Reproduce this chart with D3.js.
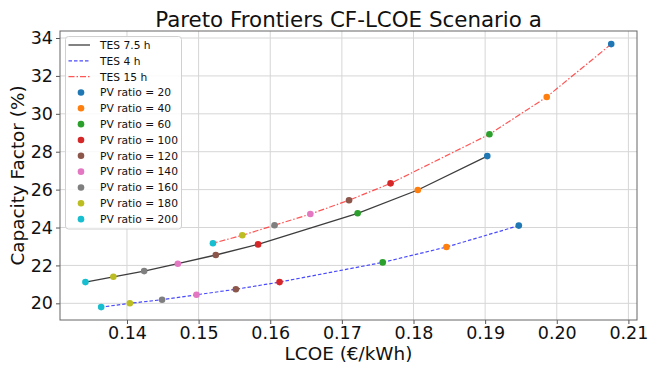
<!DOCTYPE html>
<html>
<head>
<meta charset="utf-8">
<script src="https://cdn.jsdelivr.net/npm/d3@7"></script>
<style>
  html, body { margin: 0; padding: 0; background: #fff; }
  svg { display: block; font-family: "DejaVu Sans", sans-serif; }
</style>
</head>
<body>
<svg id="chart" width="649" height="365"></svg>
<script>
// PV ratios shared by the three storage scenarios
const pvRatios = [20, 40, 60, 100, 120, 140, 160, 180, 200];
const pvColors = ["#1f77b4", "#ff7f0e", "#2ca02c", "#d62728", "#8c564b",
                  "#e377c2", "#7f7f7f", "#bcbd22", "#17becf"];

// TES 7.5 h
const lcoe75 = [0.1903, 0.1806, 0.1722, 0.1583, 0.1524, 0.1471, 0.1424, 0.1381, 0.1342];
const cf75   = [27.77, 25.98, 24.75, 23.11, 22.55, 22.09, 21.70, 21.40, 21.12];
// TES 4 h
const lcoe4  = [0.1947, 0.1846, 0.1757, 0.1613, 0.1552, 0.1497, 0.1449, 0.1404, 0.1364];
const cf4    = [24.10, 22.97, 22.16, 21.12, 20.74, 20.45, 20.19, 20.00, 19.80];
// TES 15 h
const lcoe15 = [0.2076, 0.1986, 0.1906, 0.1768, 0.1710, 0.1656, 0.1606, 0.1561, 0.1520];
const cf15   = [33.68, 30.89, 28.92, 26.33, 25.44, 24.71, 24.12, 23.59, 23.17];

const xTicks = [0.14, 0.15, 0.16, 0.17, 0.18, 0.19, 0.20, 0.21];
const yTicks = [20, 22, 24, 26, 28, 30, 32, 34];

const series = [
  { name: "TES 7.5 h", x: lcoe75, y: cf75, color: "#333333", opacity: 0.95, dash: null, width: 1.3 },
  { name: "TES 4 h",   x: lcoe4,  y: cf4,  color: "#2a2aff", opacity: 0.85, dash: "3.5,2", width: 1.2 },
  { name: "TES 15 h",  x: lcoe15, y: cf15, color: "#ff2a2a", opacity: 0.8, dash: "6,2,1.5,2", width: 1.2 }
];

const svg = d3.select("#chart");
const L = 60, R = 637, T = 31, B = 320;

const x = d3.scaleLinear().domain([0.13065, 0.2112]).range([L, R]);
const y = d3.scaleLinear().domain([19.12, 34.37]).range([B, T]);

// grid
const grid = svg.append("g");
grid.selectAll("line.gx").data(xTicks).join("line")
  .attr("x1", d => x(d)).attr("x2", d => x(d))
  .attr("y1", T).attr("y2", B)
  .attr("stroke", "#d6d6d6").attr("stroke-width", 1);
grid.selectAll("line.gy").data(yTicks).join("line")
  .attr("x1", L).attr("x2", R)
  .attr("y1", d => y(d)).attr("y2", d => y(d))
  .attr("stroke", "#d6d6d6").attr("stroke-width", 1);

// axes
const xAxis = svg.append("g").attr("transform", `translate(0,${B})`)
  .call(d3.axisBottom(x).tickValues(xTicks).tickFormat(d3.format(".2f")).tickSize(4).tickPadding(3));
const yAxis = svg.append("g").attr("transform", `translate(${L},0)`)
  .call(d3.axisLeft(y).tickValues(yTicks).tickSize(4).tickPadding(3));
[xAxis, yAxis].forEach(a => {
  a.select(".domain").remove();
  a.selectAll(".tick line").attr("stroke", "#555");
  a.selectAll(".tick text").attr("font-size", 17.5).attr("fill", "#111")
    .attr("font-family", "DejaVu Sans");
});

// frame
svg.append("rect").attr("x", L).attr("y", T).attr("width", R - L).attr("height", B - T)
  .attr("fill", "none").attr("stroke", "#666").attr("stroke-width", 1);

// frontier lines
const line = d3.line().x(d => x(d[0])).y(d => y(d[1]));
series.forEach(s => {
  svg.append("path")
    .datum(s.x.map((v, i) => [v, s.y[i]]))
    .attr("d", line)
    .attr("fill", "none")
    .attr("stroke", s.color)
    .attr("stroke-opacity", s.opacity)
    .attr("stroke-width", s.width)
    .attr("stroke-dasharray", s.dash);
});

// PV ratio markers
series.forEach(s => {
  svg.append("g").selectAll("circle")
    .data(s.x.map((v, i) => ({ lcoe: v, cf: s.y[i], c: pvColors[i] })))
    .join("circle")
    .attr("cx", d => x(d.lcoe)).attr("cy", d => y(d.cf))
    .attr("r", 3.3).attr("fill", d => d.c);
});

// title and axis labels
svg.append("text").attr("x", (L + R) / 2).attr("y", 27)
  .attr("text-anchor", "middle").attr("font-size", 21.4).attr("fill", "#111")
  .text("Pareto Frontiers CF-LCOE Scenario a");
svg.append("text").attr("x", (L + R) / 2).attr("y", 360)
  .attr("text-anchor", "middle").attr("font-size", 18.4).attr("fill", "#111")
  .text("LCOE (€/kWh)");
svg.append("text")
  .attr("transform", `translate(24,${(T + B) / 2}) rotate(-90)`)
  .attr("text-anchor", "middle").attr("font-size", 18.4).attr("fill", "#111")
  .text("Capacity Factor (%)");

// legend
const lg = svg.append("g");
lg.append("rect").attr("x", 65.5).attr("y", 36.5).attr("width", 116).attr("height", 192.5)
  .attr("rx", 3).attr("fill", "#fff").attr("fill-opacity", 0.85)
  .attr("stroke", "#d0d0d0").attr("stroke-width", 1);
const rowY = i => 45 + i * 15.83;
series.forEach((s, i) => {
  lg.append("line").attr("x1", 68.5).attr("x2", 90).attr("y1", rowY(i)).attr("y2", rowY(i))
    .attr("stroke", s.color).attr("stroke-opacity", s.opacity)
    .attr("stroke-width", s.width).attr("stroke-dasharray", s.dash);
  lg.append("text").attr("x", 100).attr("y", rowY(i)).attr("dy", "0.36em")
    .attr("font-size", 10.7).attr("fill", "#111").text(s.name);
});
pvRatios.forEach((p, j) => {
  const i = j + 3;
  lg.append("circle").attr("cx", 81).attr("cy", rowY(i)).attr("r", 3.3).attr("fill", pvColors[j]);
  lg.append("text").attr("x", 100).attr("y", rowY(i)).attr("dy", "0.36em")
    .attr("font-size", 10.7).attr("fill", "#111").text(`PV ratio = ${p}`);
});
</script>
</body>
</html>
